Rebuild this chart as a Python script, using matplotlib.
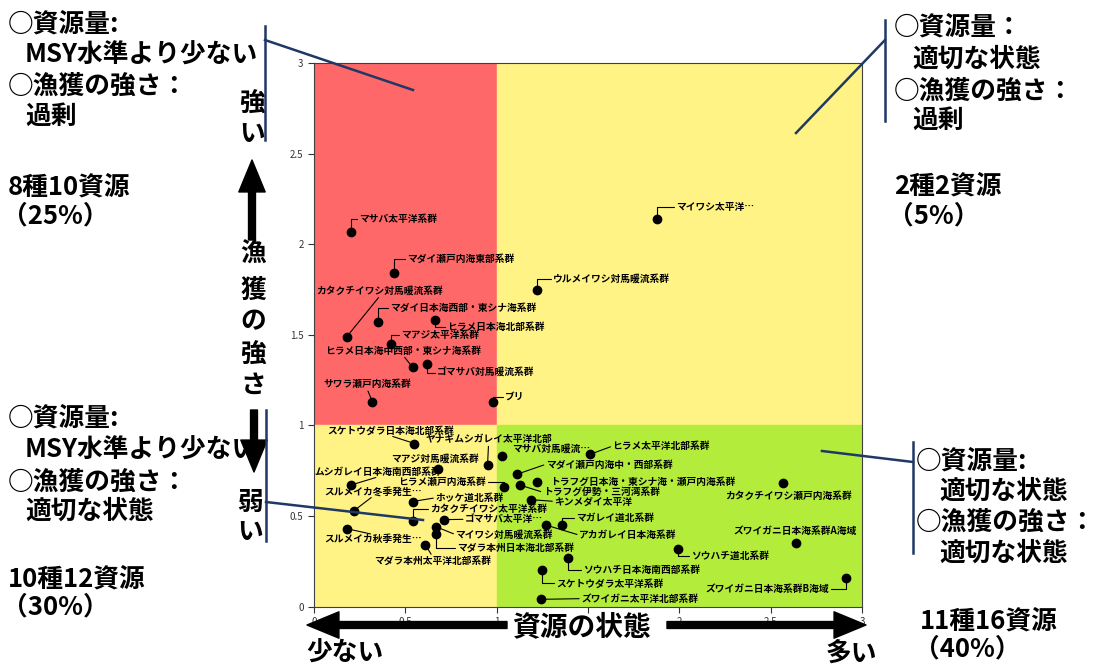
import matplotlib.pyplot as plt
from matplotlib.lines import Line2D
from matplotlib.patches import Rectangle

plt.rcParams['font.family'] = ['Noto Sans CJK JP', 'DejaVu Sans']

W, H = 1097, 667

# stock names as shown on the chart
stocks = [
    "マサバ太平洋系群", "マダイ瀬戸内海東部系群", "ウルメイワシ対馬暖流系群",
    "カタクチイワシ対馬暖流系群", "マダイ日本海西部・東シナ海系群", "ヒラメ日本海北部系群",
    "マアジ太平洋系群", "ヒラメ日本海中西部・東シナ海系群", "ゴマサバ対馬暖流系群",
    "サワラ瀬戸内海系群", "ブリ", "マイワシ太平洋…",
    "スケトウダラ日本海北部系群", "ヤナギムシガレイ太平洋北部", "マアジ対馬暖流系群",
    "ムシガレイ日本海南西部系群", "ヒラメ瀬戸内海系群", "スルメイカ冬季発生…",
    "ホッケ道北系群", "カタクチイワシ太平洋系群", "ゴマサバ太平洋…",
    "マイワシ対馬暖流系群", "マダラ本州日本海北部系群", "スルメイカ秋季発生…",
    "マダラ本州太平洋北部系群", "マサバ対馬暖流…", "ヒラメ太平洋北部系群",
    "マダイ瀬戸内海中・西部系群", "トラフグ日本海・東シナ海・瀬戸内海系群", "トラフグ伊勢・三河湾系群",
    "キンメダイ太平洋", "マガレイ道北系群", "アカガレイ日本海系群",
    "カタクチイワシ瀬戸内海系群", "ズワイガニ日本海系群A海域", "ソウハチ道北系群",
    "ソウハチ日本海南西部系群", "スケトウダラ太平洋系群", "ズワイガニ日本海系群B海域",
    "ズワイガニ太平洋北部系群",
]

# stock status (B/Bmsy) and fishing pressure (F/Fmsy)
stock_status = [
    0.20, 0.44, 1.22, 0.18, 0.35, 0.66, 0.42, 0.54, 0.62, 0.32, 0.98, 1.88,
    0.55, 0.95, 0.68, 0.20, 1.04, 0.22, 0.54, 0.54, 0.71, 0.67, 0.67, 0.18,
    0.61, 1.03, 1.51, 1.11, 1.22, 1.13, 1.19, 1.36, 1.27, 2.57, 2.64, 1.99,
    1.39, 1.25, 2.91, 1.24,
]
fishing_pressure = [
    2.07, 1.84, 1.75, 1.49, 1.57, 1.58, 1.45, 1.32, 1.34, 1.13, 1.13, 2.14,
    0.90, 0.78, 0.76, 0.67, 0.66, 0.53, 0.58, 0.47, 0.48, 0.44, 0.40, 0.43,
    0.34, 0.83, 0.84, 0.73, 0.69, 0.67, 0.59, 0.45, 0.45, 0.68, 0.35, 0.32,
    0.27, 0.20, 0.16, 0.04,
]

# label placement: offset in pixels, alignment, leader type (e=elbow, l=line, n=none)
label_layout = [
    (8.6, 12.7, 'left', 'e'), (12.4, 14, 'left', 'e'), (16, 11, 'left', 'e'),
    (33, 45.7, 'center', 'l'), (12, 14, 'left', 'e'), (12.4, -6.4, 'left', 'e'),
    (10, 8.6, 'left', 'e'), (-9.2, 16.7, 'center', 'l'), (9.7, -9, 'left', 'e'),
    (-5.3, 17.7, 'center', 'l'), (12.3, 4.7, 'left', 'e'), (18.3, 12.3, 'left', 'e'),
    (-23.7, 12.7, 'center', 'l'), (1, 26, 'center', 'l'), (-3, 10.6, 'center', 'n'),
    (27.3, 13.3, 'center', 'l'), (-18.3, 5, 'right', 'e'), (18.7, 19.3, 'center', 'l'),
    (22.7, 3.7, 'left', 'l'), (17.3, 12.7, 'left', 'e'), (21.3, 0.3, 'left', 'l'),
    (19, -7.7, 'left', 'l'), (20.4, -13.4, 'left', 'e'), (25.7, -10.7, 'center', 'l'),
    (6.8, -16, 'center', 'l'), (9.7, 7.4, 'left', 'n'), (22.6, 8.3, 'left', 'l'),
    (29, 10, 'left', 'l'), (13.3, 0, 'left', 'n'), (22.3, -7, 'left', 'l'),
    (23, -1.7, 'left', 'l'), (14, 7.4, 'left', 'e'), (33, -10, 'left', 'l'),
    (5.3, -12.7, 'center', 'n'), (-1, 12.3, 'center', 'n'), (14, -7.3, 'left', 'e'),
    (15.4, -12.4, 'left', 'e'), (13.7, -13, 'left', 'e'), (-16.7, -11.7, 'right', 'e'),
    (40.7, 0.7, 'left', 'l'),
]

fig = plt.figure(figsize=(W / 100, H / 100), dpi=100)
ax = fig.add_axes([314 / W, 1 - 606.6 / H, 548 / W, 543.6 / H])

# quadrant backgrounds
ax.add_patch(Rectangle((0, 1), 1, 2, color='#FF6868', zorder=0))
ax.add_patch(Rectangle((1, 1), 2, 2, color='#FFF385', zorder=0))
ax.add_patch(Rectangle((0, 0), 1, 1, color='#FFF385', zorder=0))
ax.add_patch(Rectangle((1, 0), 2, 1, color='#B4EC3C', zorder=0))

ax.scatter(stock_status, fishing_pressure, s=36, color='black', zorder=3)

for name, x, y, (dx, dy, ha, kind) in zip(stocks, stock_status, fishing_pressure, label_layout):
    props = None
    if kind != 'n':
        if ha == 'left':
            rel = (0, 0.5)
        elif ha == 'right':
            rel = (1, 0.5)
        else:
            rel = (0.5, 0) if dy > 0 else (0.5, 1)
        conn = 'angle,angleA=0,angleB=90,rad=0' if kind == 'e' else 'arc3,rad=0'
        props = dict(arrowstyle='-', color='black', lw=0.8, connectionstyle=conn,
                     relpos=rel, shrinkA=1.5, shrinkB=0, patchA=None)
    ax.annotate(name, xy=(x, y), xytext=(dx, dy), textcoords='offset pixels',
                ha=ha, va='center', fontsize=7, fontweight='bold',
                arrowprops=props, zorder=4)

ax.set_xlim(0, 3)
ax.set_ylim(0, 3)
ax.set_xticks([0, 0.5, 1, 1.5, 2, 2.5, 3])
# the 1.5 label sits under the axis title in the reference
ax.set_xticklabels(['0', '0.5', '1', '', '2', '2.5', '3'])
ax.set_yticks([0, 0.5, 1, 1.5, 2, 2.5, 3])
ax.set_yticklabels(['0', '0.5', '1', '1.5', '2', '2.5', '3'])
ax.tick_params(labelsize=7, length=4, colors='#333333')
for s in ax.spines.values():
    s.set_color('#404040')
    s.set_linewidth(0.8)


def ftext(x, y, s, size=18.5, **kw):
    fig.text(x / W, 1 - y / H, s, fontsize=size, fontweight='bold', va='center', **kw)


# quadrant descriptions
ftext(8, 24, "○資源量:")
ftext(25, 55, "MSY水準より少ない")
ftext(8, 86, "○漁獲の強さ：")
ftext(25, 116, "過剰")
ftext(8, 187, "8種10資源")
ftext(2, 216, "（25%）")

ftext(894, 27, "○資源量：")
ftext(912, 59, "適切な状態")
ftext(894, 91, "○漁獲の強さ：")
ftext(912, 120, "過剰")
ftext(894, 186, "2種2資源")
ftext(888, 216, "（5%）")

ftext(8, 418, "○資源量:")
ftext(25, 450, "MSY水準より少ない")
ftext(8, 482, "○漁獲の強さ：")
ftext(25, 511, "適切な状態")
ftext(8, 579, "10種12資源")
ftext(2, 607, "（30%）")

ftext(916, 461, "○資源量:")
ftext(939, 491, "適切な状態")
ftext(916, 522, "○漁獲の強さ：")
ftext(939, 553, "適切な状態")
ftext(920, 621, "11種16資源")
ftext(914, 649, "（40%）")

# vertical axis title
for ch, yy in zip("強い", [104, 133]):
    ftext(252, yy, ch, ha='center')
for ch, yy in zip("漁獲の強さ", [254, 290, 322, 355, 385]):
    ftext(253, yy, ch, ha='center')
for ch, yy in zip("弱い", [502, 532]):
    ftext(250, yy, ch, ha='center')

# horizontal axis title
ftext(581, 627, "資源の状態", size=20, ha='center')
ftext(306, 653, "少ない")
ftext(826, 653, "多い")

arrow = dict(arrowstyle='simple,head_length=2.3,head_width=1.9,tail_width=0.5',
             color='black', mutation_scale=10, shrinkA=0, shrinkB=0)
for tail, tip in [((507, 625), (307, 625)), ((667, 625), (866, 625)),
                  ((252, 240), (252, 160)), ((254, 410), (254, 472))]:
    fig.add_artist(plt.Annotation('', xy=(tip[0], H - tip[1]), xycoords='figure pixels',
                                  xytext=(tail[0], H - tail[1]), textcoords='figure pixels',
                                  arrowprops=arrow))

# bracket lines pointing into the quadrants
navy = '#1F3864'
brackets = [
    [((265, 26), (265, 140)), ((265, 40), (413, 90))],
    [((885, 20), (885, 121)), ((885, 40), (796, 133))],
    [((266, 410), (266, 541)), ((266, 502), (423, 520))],
    [((913, 442), (913, 553)), ((913, 462), (822, 451))],
]
for segs in brackets:
    for (x0, y0), (x1, y1) in segs:
        fig.add_artist(Line2D([x0 / W, x1 / W], [1 - y0 / H, 1 - y1 / H],
                              transform=fig.transFigure, color=navy, lw=1.8, zorder=5))

fig.savefig('out.png', dpi=100)
